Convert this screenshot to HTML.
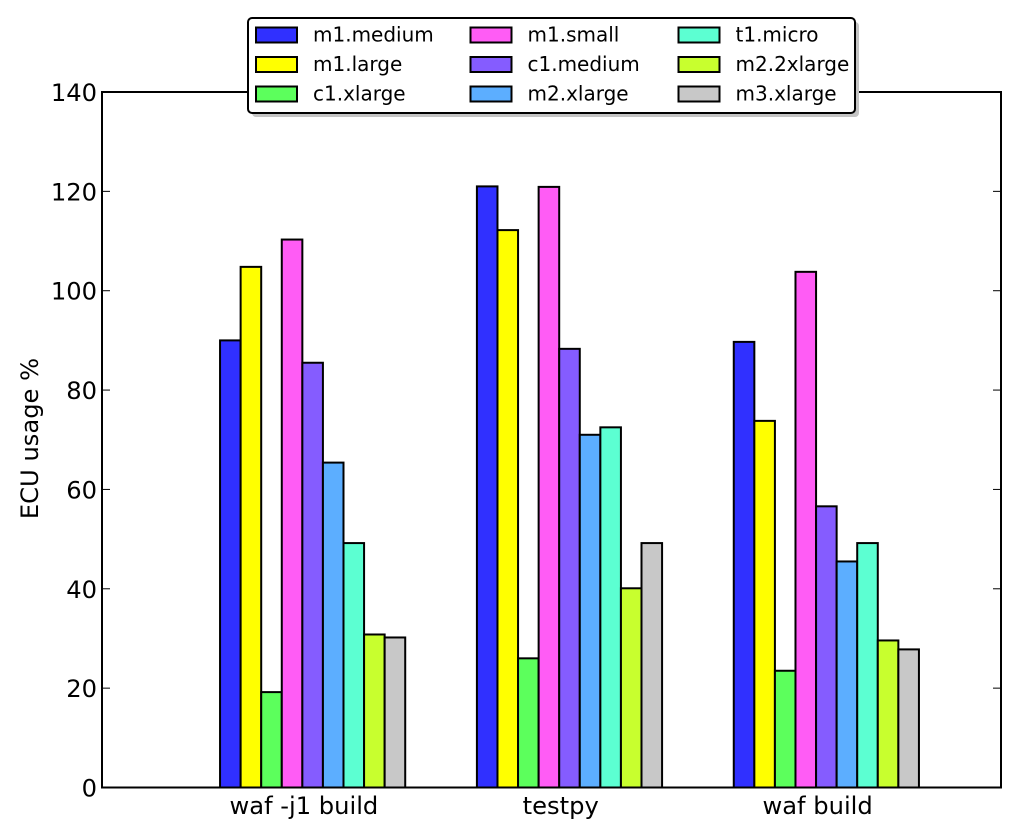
<!DOCTYPE html>
<html>
<head>
<meta charset="utf-8">
<style>
html,body{margin:0;padding:0;background:#fff;}
svg{display:block;font-family:"DejaVu Sans","Liberation Sans",sans-serif;}
</style>
</head>
<body>
<svg id="chart" width="1024" height="828" viewBox="0 0 1024 828" xmlns="http://www.w3.org/2000/svg"></svg>
<script>
const categories = ["waf -j1 build", "testpy", "waf build"];
const seriesNames = ["m1.medium","m1.large","c1.xlarge","m1.small","c1.medium","m2.xlarge","t1.micro","m2.2xlarge","m3.xlarge"];
const seriesColors = ["#3030ff","#ffff00","#5cff5c","#ff5cf5","#855cff","#5caeff","#5cffd2","#c8ff2e","#c8c8c8"];
const m1Medium = [90, 121, 89.7];
const m1Large = [104.8, 112.2, 73.8];
const c1Xlarge = [19.2, 26, 23.5];
const m1Small = [110.3, 120.9, 103.8];
const c1Medium = [85.5, 88.3, 56.6];
const m2Xlarge = [65.4, 71, 45.5];
const t1Micro = [49.2, 72.5, 49.2];
const m22Xlarge = [30.8, 40.1, 29.6];
const m3Xlarge = [30.2, 49.2, 27.8];
const seriesValues = [m1Medium, m1Large, c1Xlarge, m1Small, c1Medium, m2Xlarge, t1Micro, m22Xlarge, m3Xlarge];
const yTicks = [0, 20, 40, 60, 80, 100, 120, 140];

const NS = "http://www.w3.org/2000/svg";
const svg = document.getElementById("chart");
const plot = {left: 102, right: 1001, top: 92, bottom: 787.5};
const yMax = 140;
const xMax = 3.5;
const groupOffset = 0.4596;
const barWidth = 0.0801;
const labelOffset = 0.3264;

function xScale(v) { return plot.left + (v / xMax) * (plot.right - plot.left); }
function yScale(v) { return plot.bottom - (v / yMax) * (plot.bottom - plot.top); }
function make(tag, attrs, text) {
  const el = document.createElementNS(NS, tag);
  for (const k in attrs) el.setAttribute(k, attrs[k]);
  if (text !== undefined) el.textContent = text;
  svg.appendChild(el);
  return el;
}
function slug(s) { return s.toLowerCase().replace(/[^a-z0-9]+/g, "-").replace(/^-|-$/g, ""); }

// Bars
seriesValues.forEach(function (vals, s) {
  vals.forEach(function (v, c) {
    const x0 = xScale(c + groupOffset + s * barWidth);
    const x1 = xScale(c + groupOffset + (s + 1) * barWidth);
    const bar = make("rect", {x: x0, y: yScale(v), width: x1 - x0, height: yScale(0) - yScale(v), fill: seriesColors[s], stroke: "#000", "stroke-width": 2});
    
    
  });
});

// Axes frame
const frame = make("rect", {x: plot.left, y: plot.top, width: plot.right - plot.left, height: plot.bottom - plot.top, fill: "none", stroke: "#000", "stroke-width": 2});



// Y ticks
yTicks.forEach(function (t) {
  const y = yScale(t);
  const left = make("line", {x1: plot.left, x2: plot.left + 8, y1: y, y2: y, stroke: "#000", "stroke-width": 1});
  
  
  const right = make("line", {x1: plot.right - 8, x2: plot.right, y1: y, y2: y, stroke: "#000", "stroke-width": 1});
  
  
  const label = make("text", {x: plot.left - 5, y: y + 9, "text-anchor": "end", "font-size": 24.2, fill: "#000"}, String(t));
  
  
});

// X labels
categories.forEach(function (c, i) {
  const label = make("text", {x: xScale(i + groupOffset + labelOffset), y: 814, "text-anchor": "middle", "font-size": 24.2, fill: "#000"}, c);
  
  
});

// Y axis title
const yTitle = make("text", {x: 0, y: 0, transform: "translate(38,438.5) rotate(-90)", "text-anchor": "middle", "font-size": 24.2, fill: "#000"}, "ECU usage %");



// Legend
const legendShadow = make("rect", {x: 252, y: 22, width: 607, height: 95, rx: 4, fill: "#c4c4c4"});


const legendBox = make("rect", {x: 248, y: 18, width: 607, height: 95, rx: 4, fill: "#fff", stroke: "#000", "stroke-width": 2});


const legendCols = [256, 470.5, 678.5];
seriesNames.forEach(function (name, i) {
  const col = Math.floor(i / 3), row = i % 3;
  const top = 27.5 + row * 29.5;
  const sw = make("rect", {x: legendCols[col], y: top, width: 41, height: 15, fill: seriesColors[i], stroke: "#000", "stroke-width": 2});
  
  
  const tx = make("text", {x: legendCols[col] + 57, y: top + 14, "font-size": 20, fill: "#000"}, name);
  
  
});
</script>
</body>
</html>
